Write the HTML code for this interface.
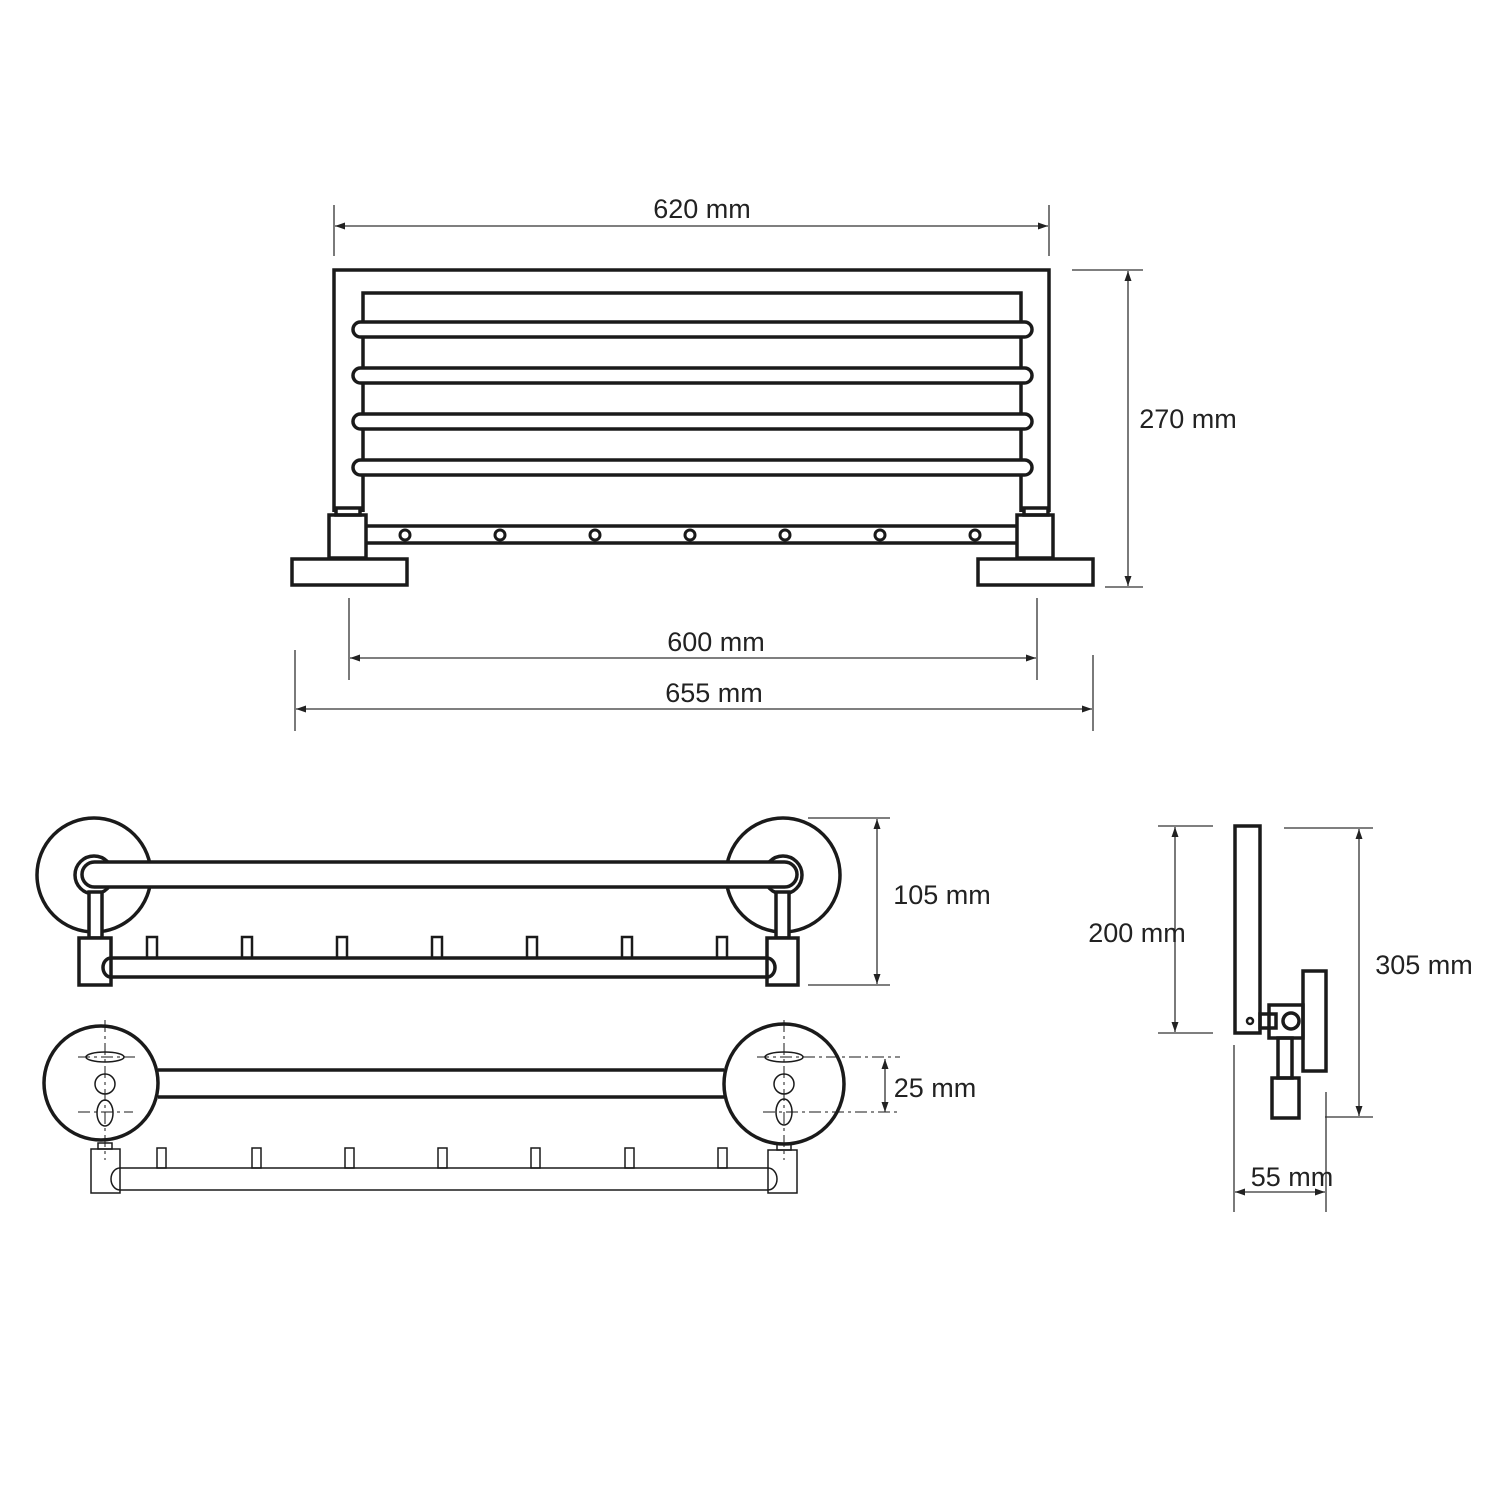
<!DOCTYPE html>
<html><head><meta charset="utf-8"><style>
html,body{margin:0;padding:0;background:#fff;}
svg{display:block;}
text{font-family:"Liberation Sans",sans-serif;font-size:27px;fill:#222;}
</style></head><body>
<svg width="1500" height="1500" viewBox="0 0 1500 1500" xmlns="http://www.w3.org/2000/svg">
<defs>
<marker id="a" viewBox="0 0 10 10" refX="10" refY="5" markerWidth="10" markerHeight="10" orient="auto-start-reverse" markerUnits="userSpaceOnUse"><path d="M0,1.5 L10,5 L0,8.5 Z" fill="#222"/></marker>
</defs>
<g fill="none" stroke="#1a1a1a" stroke-width="3.5">
<!-- TOP VIEW -->
<path d="M334,512 V270 H1049 V512 M363,512 V293 H1021 V512"/>
<rect x="353" y="322" width="679" height="15" rx="7.5" fill="#fff"/>
<rect x="353" y="368" width="679" height="15" rx="7.5" fill="#fff"/>
<rect x="353" y="414" width="679" height="15" rx="7.5" fill="#fff"/>
<rect x="353" y="460" width="679" height="15" rx="7.5" fill="#fff"/>
<rect x="336" y="508" width="24" height="7"/>
<rect x="1024" y="508" width="24" height="7"/>
<rect x="329" y="515" width="37" height="43"/>
<rect x="1017" y="515" width="36" height="43"/>
<path d="M366,526 H1017 M366,543 H1017"/>
<rect x="292" y="559" width="115" height="26"/>
<rect x="978" y="559" width="115" height="26"/>
<g stroke-width="3">
<circle cx="405" cy="535" r="5"/><circle cx="500" cy="535" r="5"/><circle cx="595" cy="535" r="5"/><circle cx="690" cy="535" r="5"/><circle cx="785" cy="535" r="5"/><circle cx="880" cy="535" r="5"/><circle cx="975" cy="535" r="5"/>
</g>
<!-- MIDDLE VIEW -->
<circle cx="94" cy="875" r="57"/>
<circle cx="783" cy="875" r="57"/>
<circle cx="94" cy="875" r="19" fill="#fff"/>
<circle cx="783" cy="875" r="19" fill="#fff"/>
<rect x="82" y="862" width="715" height="25" rx="12.5" fill="#fff"/>
<rect x="89" y="892" width="13" height="46" fill="#fff"/>
<rect x="776" y="892" width="13" height="46" fill="#fff"/>
<rect x="79" y="938" width="32" height="47" fill="#fff"/>
<rect x="767" y="938" width="31" height="47" fill="#fff"/>
<path d="M111,958 H767 M111,977 H767 M111,958 A8,9.5 0 0 0 111,977 M767,958 A8,9.5 0 0 1 767,977"/>
<g stroke-width="2.5">
<rect x="147" y="937" width="10" height="21"/><rect x="242" y="937" width="10" height="21"/><rect x="337" y="937" width="10" height="21"/><rect x="432" y="937" width="10" height="21"/><rect x="527" y="937" width="10" height="21"/><rect x="622" y="937" width="10" height="21"/><rect x="717" y="937" width="10" height="21"/>
</g>
<!-- LOWER VIEW -->
<circle cx="101" cy="1083" r="57"/>
<circle cx="784" cy="1084" r="60"/>
<path d="M158,1070 H724 M158,1097 H724"/>
<g stroke-width="1.5">
<ellipse cx="105" cy="1057" rx="19" ry="5"/><circle cx="105" cy="1084" r="10"/><ellipse cx="105" cy="1113" rx="8" ry="13"/>
<ellipse cx="784" cy="1057" rx="19" ry="5"/><circle cx="784" cy="1084" r="10"/><ellipse cx="784" cy="1112" rx="8" ry="13"/>
<rect x="98" y="1143" width="14" height="6"/><rect x="777" y="1144" width="14" height="6"/>
<rect x="91" y="1149" width="29" height="44"/><rect x="768" y="1150" width="29" height="43"/>
<path d="M120,1168 H768 M120,1190 H768 M120,1168 A9,11 0 0 0 120,1190 M768,1168 A9,11 0 0 1 768,1190"/>
<rect x="157" y="1148" width="9" height="20"/><rect x="252" y="1148" width="9" height="20"/><rect x="345" y="1148" width="9" height="20"/><rect x="438" y="1148" width="9" height="20"/><rect x="531" y="1148" width="9" height="20"/><rect x="625" y="1148" width="9" height="20"/><rect x="718" y="1148" width="9" height="20"/>
</g>
<g stroke-width="1" stroke-dasharray="12,4,3,4">
<path d="M105,1020 V1160 M78,1057 H135 M78,1112 H133"/>
<path d="M784,1020 V1160 M757,1057 H900 M763,1112 H900"/>
</g>
<!-- SIDE VIEW -->
<rect x="1235" y="826" width="25" height="207"/>
<circle cx="1250" cy="1021" r="3" stroke-width="2.5"/>
<rect x="1303" y="971" width="23" height="100"/>
<rect x="1269" y="1005" width="34" height="33"/>
<rect x="1260" y="1014" width="16" height="14"/>
<circle cx="1291" cy="1021" r="8"/>
<rect x="1278" y="1038" width="14" height="40"/>
<rect x="1272" y="1078" width="27" height="40"/>
</g>
<!-- DIMENSIONS -->
<g stroke="#333" stroke-width="1.3" fill="none">
<path d="M334,205 V256 M1049,205 V256"/>
<path d="M335,226 H1048" marker-start="url(#a)" marker-end="url(#a)"/>
<path d="M1072,270 H1143 M1105,587 H1143"/>
<path d="M1128,271 V586" marker-start="url(#a)" marker-end="url(#a)"/>
<path d="M349,598 V680 M1037,598 V680"/>
<path d="M350,658 H1036" marker-start="url(#a)" marker-end="url(#a)"/>
<path d="M295,650 V731 M1093,655 V731"/>
<path d="M296,709 H1092" marker-start="url(#a)" marker-end="url(#a)"/>
<path d="M808,818 H890 M808,985 H890"/>
<path d="M877,819 V984" marker-start="url(#a)" marker-end="url(#a)"/>
<path d="M885,1059 V1112" marker-start="url(#a)" marker-end="url(#a)"/>
<path d="M1158,826 H1213 M1158,1033 H1213"/>
<path d="M1175,827 V1032" marker-start="url(#a)" marker-end="url(#a)"/>
<path d="M1284,828 H1373 M1325,1117 H1373"/>
<path d="M1359,829 V1116" marker-start="url(#a)" marker-end="url(#a)"/>
<path d="M1234,1045 V1212 M1326,1092 V1212"/>
<path d="M1235,1192 H1325" marker-start="url(#a)" marker-end="url(#a)"/>
</g>
<text x="702" y="218" text-anchor="middle">620 mm</text>
<text x="1188" y="428" text-anchor="middle">270 mm</text>
<text x="716" y="651" text-anchor="middle">600 mm</text>
<text x="714" y="702" text-anchor="middle">655 mm</text>
<text x="942" y="904" text-anchor="middle">105 mm</text>
<text x="935" y="1097" text-anchor="middle">25 mm</text>
<text x="1137" y="942" text-anchor="middle">200 mm</text>
<text x="1424" y="974" text-anchor="middle">305 mm</text>
<text x="1292" y="1186" text-anchor="middle">55 mm</text>
</svg>
</body></html>
